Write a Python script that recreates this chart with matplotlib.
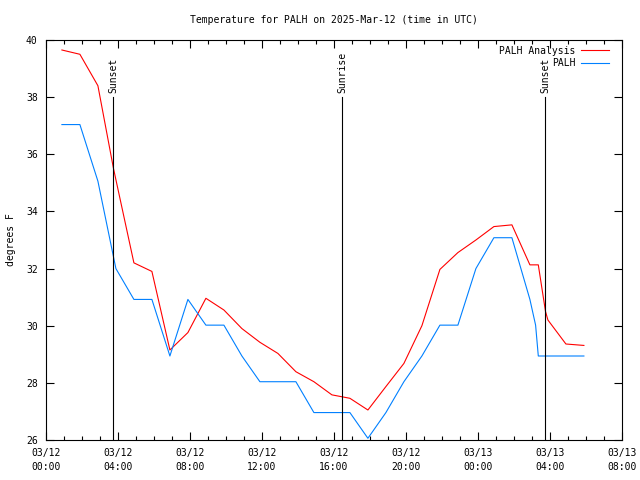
import pandas as pd
import matplotlib
matplotlib.use("Agg")
import matplotlib.pyplot as plt
import matplotlib.dates as mdates

# PALH observations (converted to F) and the analysis series
obs_times = ["2025-03-12 00:53", "2025-03-12 01:53", "2025-03-12 02:53", "2025-03-12 03:53",
             "2025-03-12 04:53", "2025-03-12 05:53", "2025-03-12 06:53", "2025-03-12 07:53",
             "2025-03-12 08:53", "2025-03-12 09:53", "2025-03-12 10:53", "2025-03-12 11:53",
             "2025-03-12 12:53", "2025-03-12 13:53", "2025-03-12 14:53", "2025-03-12 15:53",
             "2025-03-12 16:53", "2025-03-12 17:53", "2025-03-12 18:53", "2025-03-12 19:53",
             "2025-03-12 20:53", "2025-03-12 21:53", "2025-03-12 22:53", "2025-03-12 23:53",
             "2025-03-13 00:53", "2025-03-13 01:53", "2025-03-13 02:53", "2025-03-13 03:12",
             "2025-03-13 03:21", "2025-03-13 03:53", "2025-03-13 04:53", "2025-03-13 05:53"]
obs_temp = [37.04, 37.04, 35.06, 32.0,
            30.92, 30.92, 28.94, 30.92,
            30.02, 30.02, 28.94, 28.04,
            28.04, 28.04, 26.96, 26.96,
            26.96, 26.06, 26.96, 28.04,
            28.94, 30.02, 30.02, 32.0,
            33.08, 33.08, 30.92, 30.02,
            28.94, 28.94, 28.94, 28.94]

ana_times = ["2025-03-12 00:53", "2025-03-12 01:53", "2025-03-12 02:53", "2025-03-12 03:45",
             "2025-03-12 04:53", "2025-03-12 05:53", "2025-03-12 06:53", "2025-03-12 07:53",
             "2025-03-12 08:53", "2025-03-12 09:53", "2025-03-12 10:53", "2025-03-12 11:53",
             "2025-03-12 12:53", "2025-03-12 13:53", "2025-03-12 14:53", "2025-03-12 15:53",
             "2025-03-12 16:53", "2025-03-12 17:53", "2025-03-12 18:53", "2025-03-12 19:53",
             "2025-03-12 20:53", "2025-03-12 21:53", "2025-03-12 22:53", "2025-03-12 23:53",
             "2025-03-13 00:53", "2025-03-13 01:53", "2025-03-13 02:53", "2025-03-13 03:21",
             "2025-03-13 03:45", "2025-03-13 03:53", "2025-03-13 04:53", "2025-03-13 05:53"]
ana_temp = [39.65, 39.5, 38.4, 35.5,
            32.2, 31.9, 29.15, 29.76,
            30.96, 30.55, 29.9, 29.42,
            29.03, 28.39, 28.04, 27.58,
            27.46, 27.05, 27.87, 28.68,
            30.0, 31.97, 32.56, 33.0,
            33.47, 33.53, 32.13, 32.13,
            30.5, 30.2, 29.36, 29.31]

sun_events = ["2025-03-12 03:43", "2025-03-12 16:27", "2025-03-13 03:43"]
sun_labels = ["Sunset", "Sunrise", "Sunset"]

FONT = "DejaVu Sans Mono"
FS = 7


def main():
    plt.rcParams["font.family"] = FONT
    fig = plt.figure(figsize=(6.4, 4.8), dpi=100)
    ax = fig.add_axes([46 / 640, 40 / 480, 576 / 640, 400 / 480])

    ax.plot(pd.to_datetime(ana_times), ana_temp, color="#ff0000", lw=0.8,
            label="PALH Analysis")
    ax.plot(pd.to_datetime(obs_times), obs_temp, color="#0080ff", lw=0.8,
            label="PALH")

    for t, lab in zip(pd.to_datetime(sun_events), sun_labels):
        ax.plot([t, t], [26, 38], color="black", lw=0.8)
        ax.text(t, 38.15, lab, rotation=90, ha="center", va="bottom", fontsize=FS)

    ax.set_xlim(pd.Timestamp("2025-03-12 00:00"), pd.Timestamp("2025-03-13 08:00"))
    ax.set_ylim(26, 40)
    ax.set_yticks(range(26, 41, 2))
    ax.xaxis.set_major_locator(mdates.HourLocator(byhour=range(0, 24, 4)))
    ax.xaxis.set_minor_locator(mdates.HourLocator())
    ax.xaxis.set_major_formatter(mdates.DateFormatter("%m/%d\n%H:%M"))
    for lbl in ax.get_xticklabels():
        lbl.set_linespacing(1.5)

    ax.tick_params(direction="in", top=True, right=True, labelsize=FS,
                   length=6, width=0.8, pad=6)
    ax.tick_params(which="minor", direction="in", top=True, right=True,
                   length=3, width=0.8)
    for s in ax.spines.values():
        s.set_linewidth(0.8)

    ax.set_ylabel("degrees F", fontsize=FS, labelpad=7)
    ax.set_title("Temperature for PALH on 2025-Mar-12 (time in UTC)",
                 fontsize=FS, pad=12)

    ax.legend(loc="upper right", bbox_to_anchor=(1 - 7 / 576, 1),
              frameon=False, fontsize=FS, markerfirst=False,
              handlelength=2.9, handletextpad=0.6,
              borderaxespad=0.2, labelspacing=0.25)

    fig.savefig("out.png", dpi=100)
    plt.close(fig)


if __name__ == "__main__":
    main()
